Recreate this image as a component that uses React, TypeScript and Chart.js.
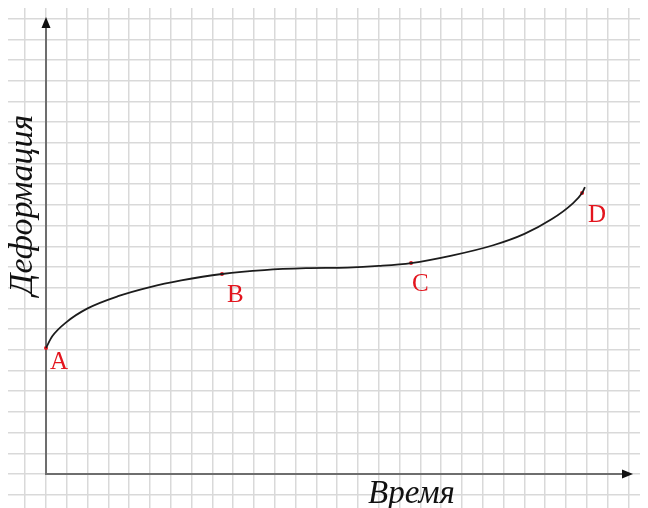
import React, { useEffect, useRef } from "react";
import { Chart, registerables } from "chart.js";

Chart.register(...registerables);

// Curve samples (time, deformation) in grid units
const curveX = [0, 0.3, 1.0, 2.0, 3.5, 5.0, 6.5, 8.46, 10.5, 12.5, 14.5, 16.0, 17.55, 19.5, 21.5, 23.0, 24.3, 25.3, 25.77, 25.91];
const curveY = [6.09, 6.65, 7.35, 8.0, 8.6, 9.03, 9.35, 9.66, 9.85, 9.94, 9.97, 10.05, 10.19, 10.55, 11.05, 11.6, 12.3, 13.05, 13.57, 13.86];

// Marked points
const pointNames = ["A", "B", "C", "D"];
const pointX = [0, 8.46, 17.55, 25.77];
const pointY = [6.09, 9.66, 10.19, 13.57];

const xTitle = "Время";
const yTitle = "Деформация";

const X_MIN = -1.827;
const X_MAX = 28.94;
const Y_MIN = -1.643;
const Y_MAX = 22.51;
const X_AXIS_END = 28.22;
const Y_AXIS_END = 22.08;

const labelOffsets = [
  [4, 21],
  [5, 28],
  [1, 28],
  [6, 29],
];

const overlayPlugin = {
  id: "overlay",
  beforeDatasetsDraw(chart: any) {
    const ctx = chart.ctx;
    const xs = chart.scales.x;
    const ys = chart.scales.y;
    const ox = xs.getPixelForValue(0);
    const oy = ys.getPixelForValue(0);
    const xe = xs.getPixelForValue(X_AXIS_END);
    const ye = ys.getPixelForValue(Y_AXIS_END);
    ctx.save();
    ctx.strokeStyle = "#6e6e6e";
    ctx.lineWidth = 2;
    ctx.beginPath();
    ctx.moveTo(ox, ye + 8);
    ctx.lineTo(ox, oy);
    ctx.lineTo(xe - 8, oy);
    ctx.stroke();
    ctx.fillStyle = "#111";
    ctx.beginPath();
    ctx.moveTo(ox, ye);
    ctx.lineTo(ox - 4.5, ye + 11);
    ctx.lineTo(ox + 4.5, ye + 11);
    ctx.closePath();
    ctx.fill();
    ctx.beginPath();
    ctx.moveTo(xe, oy);
    ctx.lineTo(xe - 11, oy - 4.5);
    ctx.lineTo(xe - 11, oy + 4.5);
    ctx.closePath();
    ctx.fill();

    // axis titles
    ctx.fillStyle = "#111";
    ctx.font = "italic 33px 'Liberation Serif', 'DejaVu Serif', serif";
    ctx.textAlign = "left";
    ctx.textBaseline = "alphabetic";
    ctx.fillText(xTitle, 360, 495);
    ctx.save();
    ctx.font = "italic 34px 'Liberation Serif', 'DejaVu Serif', serif";
    ctx.translate(24, 197);
    ctx.rotate(-Math.PI / 2);
    ctx.textAlign = "center";
    ctx.fillText(yTitle, 0, 0);
    ctx.restore();
    ctx.restore();
  },
  afterDatasetsDraw(chart: any) {
    const ctx = chart.ctx;
    const xs = chart.scales.x;
    const ys = chart.scales.y;
    ctx.save();
    ctx.fillStyle = "#e3151e";
    ctx.font = "25px 'Liberation Serif', 'DejaVu Serif', serif";
    ctx.textAlign = "left";
    ctx.textBaseline = "alphabetic";
    pointNames.forEach((n, i) => {
      const px = xs.getPixelForValue(pointX[i]);
      const py = ys.getPixelForValue(pointY[i]);
      ctx.fillText(n, px + labelOffsets[i][0], py + labelOffsets[i][1]);
    });
    ctx.restore();
  },
};

export default function App() {
  const ref = useRef<HTMLCanvasElement>(null);
  useEffect(() => {
    if (!ref.current) return;
    const chart = new Chart(ref.current, {
      type: "line",
      data: {
        datasets: [
          {
            data: curveX.map((x, i) => ({ x, y: curveY[i] })),
            borderColor: "#1c1c1c",
            borderWidth: 1.8,
            pointRadius: 0,
            pointHoverRadius: 0,
            cubicInterpolationMode: "monotone",
            fill: false,
          },
          {
            data: pointX.map((x, i) => ({ x, y: pointY[i] })),
            showLine: false,
            pointRadius: 2,
            pointHoverRadius: 2,
            pointBackgroundColor: "#e3151e",
            pointBorderWidth: 0,
            borderColor: "#e3151e",
          },
        ],
      },
      options: {
        animation: false,
        responsive: false,
        devicePixelRatio: 1,
        layout: { padding: 0, autoPadding: false },
        plugins: { legend: { display: false }, tooltip: { enabled: false } },
        scales: {
          x: {
            type: "linear",
            min: X_MIN,
            max: X_MAX,
            ticks: { display: false, stepSize: 1, includeBounds: false },
            afterBuildTicks: (s: any) => {
              s.ticks = s.ticks.filter((t: any) => Number.isInteger(t.value));
            },
            grid: { color: "#d9d9d9", lineWidth: 1.5, drawTicks: false },
            border: { display: false },
          },
          y: {
            type: "linear",
            min: Y_MIN,
            max: Y_MAX,
            ticks: { display: false, stepSize: 1, includeBounds: false },
            afterBuildTicks: (s: any) => {
              s.ticks = s.ticks.filter((t: any) => Number.isInteger(t.value));
            },
            grid: { color: "#d9d9d9", lineWidth: 1.5, drawTicks: false },
            border: { display: false },
          },
        },
      } as any,
      plugins: [overlayPlugin],
    });
    return () => chart.destroy();
  }, []);
  return (
    <div style={{ width: 640, height: 500 }}>
      <canvas ref={ref} width={640} height={500} style={{ display: "block", background: "#fff" }} />
    </div>
  );
}
